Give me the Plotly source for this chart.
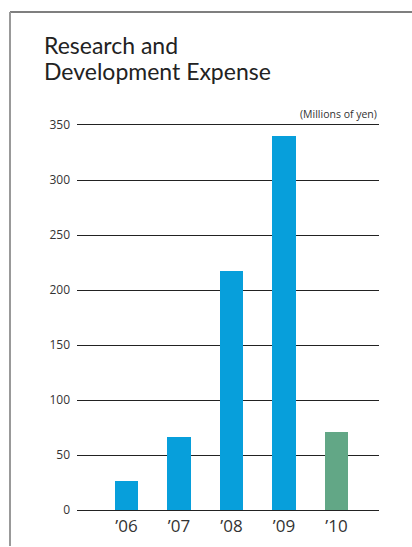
import plotly.graph_objects as go

years = ["’06", "’07", "’08", "’09", "’10"]
expense = [26, 66, 217, 340, 71]
bar_colors = ["#079fdb", "#079fdb", "#079fdb", "#079fdb", "#62a786"]
y_ticks = [0, 50, 100, 150, 200, 250, 300, 350]
title_lines = ["Research and", "Development Expense"]

W, H = 412, 547
L, R, T, B = 77, 33, 125, 37
pw, ph = W - L - R, H - T - B

def px(x):
    return (x - L) / pw

def py(y):
    return (H - B - y) / ph

fig = go.Figure(go.Bar(
    x=list(range(len(years))), y=expense, marker_color=bar_colors,
    marker_line_width=0, width=0.44,
))

fig.update_layout(
    width=W, height=H, margin=dict(l=L, r=R, t=T, b=B, autoexpand=False),
    paper_bgcolor="white", plot_bgcolor="white", showlegend=False,
    font=dict(family="Open Sans", color="#333"),
    bargap=0,
)
fig.update_xaxes(
    tickmode="array", tickvals=list(range(len(years))), ticktext=years,
    range=[-0.943, 4.81], showgrid=False, zeroline=False, automargin=False,
    showline=True, mirror=True, linecolor="#222", linewidth=1.2,
    tickfont=dict(size=17, color="#333"), ticks="", ticklabelstandoff=0,
)
fig.update_yaxes(
    range=[0, 350], tickvals=y_ticks, showgrid=True, gridcolor="#222",
    gridwidth=1.2, zeroline=False, showline=False, automargin=False,
    tickfont=dict(size=12, color="#333"), ticks="", ticklabelstandoff=6,
)

for i, line in enumerate(title_lines):
    fig.add_annotation(
        text=line, xref="paper", yref="paper",
        x=px(42), y=py(45 + 26 * i), xanchor="left", yanchor="middle",
        align="left", showarrow=False,
        font=dict(size=23, color="#222", family="Lato"),
    )
fig.add_annotation(
    text="(Millions of yen)", xref="paper", yref="paper",
    x=1.0, y=py(114), xanchor="right", yanchor="middle",
    showarrow=False, font=dict(size=10.5, color="#333"),
)

fig.add_shape(type="line", xref="paper", yref="paper",
              x0=px(10), x1=px(412), y0=py(12), y1=py(12),
              line=dict(color="#555", width=1.5))
fig.add_shape(type="line", xref="paper", yref="paper",
              x0=px(10), x1=px(10), y0=py(12), y1=py(546),
              line=dict(color="#999", width=2))

fig.write_html("out.html")
